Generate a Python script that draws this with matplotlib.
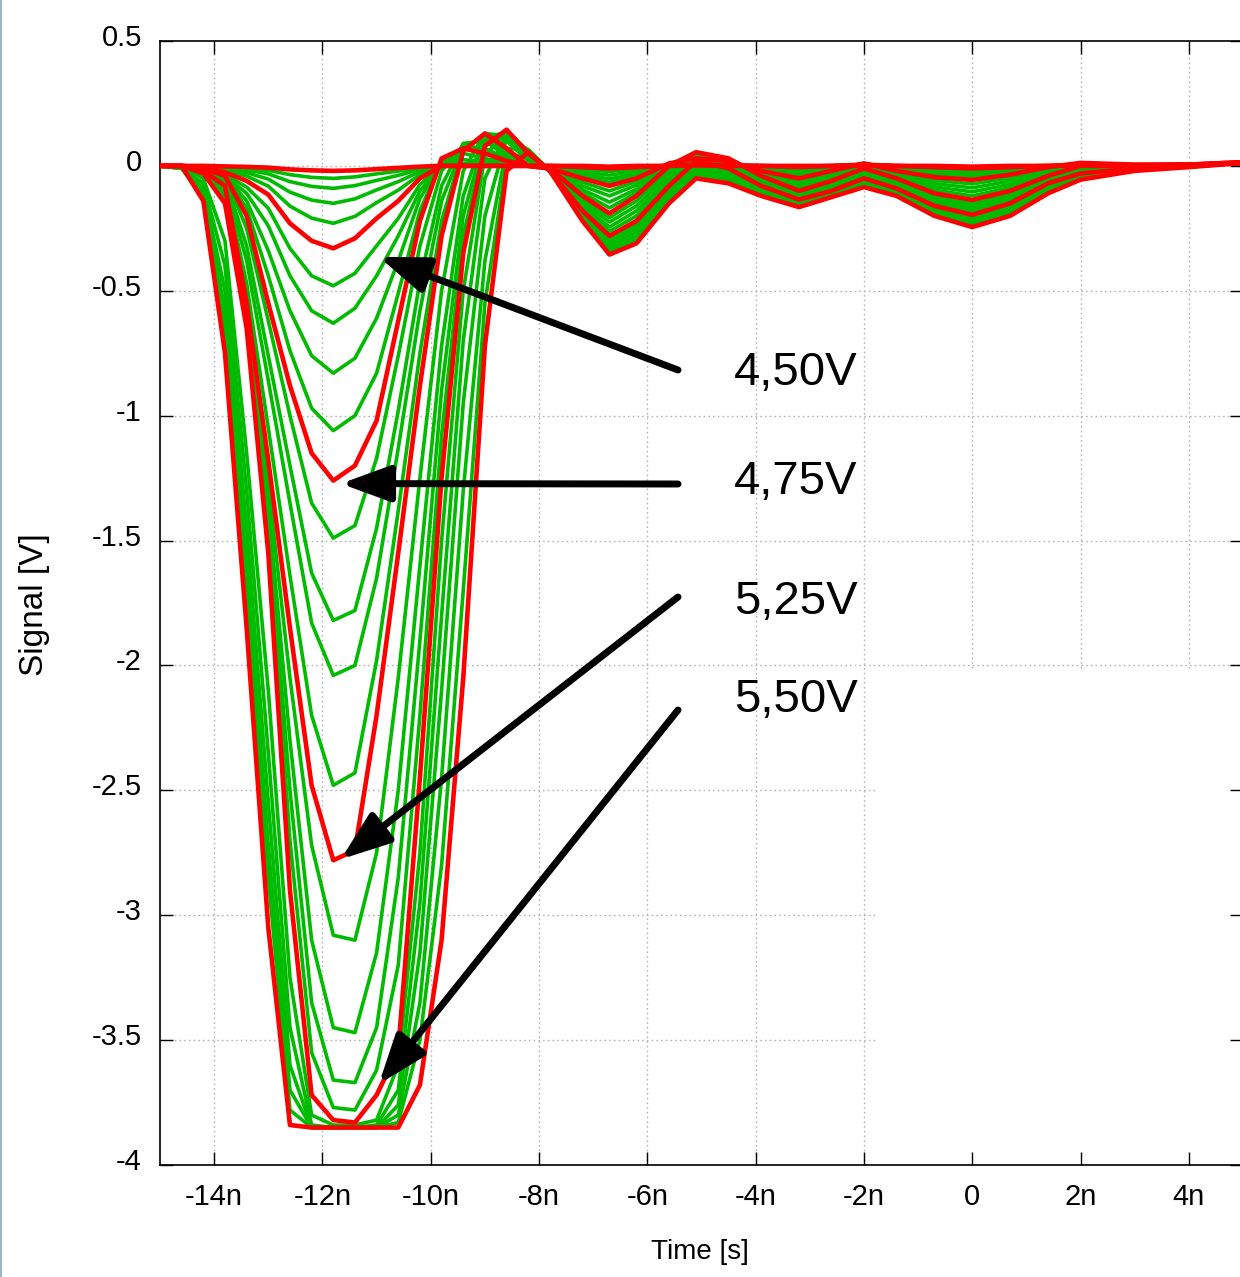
import numpy as np
import matplotlib.pyplot as plt
from matplotlib.lines import Line2D
import matplotlib.transforms as mtransforms

plt.rcParams['font.family'] = ['Liberation Sans', 'DejaVu Sans']

# time samples in ns: main pulse, then the ringing tail
t_pulse = [-15.0, -14.6, -14.2, -13.8, -13.4, -13.0, -12.6, -12.2, -11.8,
           -11.4, -11.0, -10.6, -10.2, -9.8, -9.4, -9.0, -8.6, -8.2]
t_tail = [-7.8, -7.2, -6.7, -6.2, -5.6, -5.1, -4.5, -3.9, -3.2, -2.6,
          -2.0, -1.4, -0.7, 0.0, 0.7, 1.4, 2.0, 3.0, 4.0, 5.0]

# signal [V] of each supply-voltage step
pulse_values = [
    [0, 0, 0, -0.002, -0.004, -0.007, -0.014, -0.018, -0.02, -0.018, -0.013, -0.008, -0.003, 0, 0, 0, 0, 0],
    [0, 0, -0.001, -0.004, -0.009, -0.018, -0.035, -0.046, -0.05, -0.044, -0.032, -0.021, -0.008, 0, 0, 0, 0, 0],
    [0, 0, -0.001, -0.007, -0.016, -0.032, -0.063, -0.082, -0.09, -0.079, -0.058, -0.038, -0.014, 0, 0, 0, 0, 0],
    [0, 0, -0.002, -0.012, -0.027, -0.053, -0.105, -0.137, -0.15, -0.132, -0.096, -0.063, -0.023, 0, 0, 0, 0, 0],
    [0, 0, -0.003, -0.018, -0.041, -0.081, -0.161, -0.209, -0.23, -0.202, -0.147, -0.097, -0.035, 0, 0, 0, 0, 0],
    [0, 0, -0.005, -0.026, -0.06, -0.115, -0.23, -0.30, -0.33, -0.29, -0.21, -0.14, -0.05, 0, 0, 0, 0, 0],
    [0, 0, -0.007, -0.035, -0.085, -0.17, -0.33, -0.44, -0.48, -0.43, -0.32, -0.21, -0.075, 0, 0.004, 0.002, 0, 0],
    [0, 0, -0.008, -0.04, -0.11, -0.24, -0.44, -0.58, -0.63, -0.57, -0.44, -0.28, -0.1, 0.0, 0.01, 0.006, 0.002, 0],
    [0, 0, -0.01, -0.04, -0.14, -0.34, -0.58, -0.76, -0.83, -0.77, -0.61, -0.38, -0.13, 0.01, 0.025, 0.015, 0.005, 0],
    [0, 0, -0.01, -0.04, -0.17, -0.44, -0.74, -0.97, -1.06, -1.0, -0.83, -0.51, -0.18, 0.02, 0.05, 0.03, 0.01, 0],
    [0, 0, -0.01, -0.04, -0.2, -0.55, -0.88, -1.15, -1.26, -1.2, -1.02, -0.62, -0.22, 0.03, 0.07, 0.05, 0.02, 0],
    [0, 0, -0.01, -0.04, -0.25, -0.62, -1.0, -1.35, -1.49, -1.44, -1.17, -0.76, -0.32, -0.02, 0.08, 0.07, 0.03, 0.0],
    [0, 0, -0.01, -0.05, -0.32, -0.76, -1.2, -1.63, -1.82, -1.78, -1.45, -0.98, -0.46, -0.08, 0.09, 0.1, 0.04, 0.0],
    [0, 0, -0.01, -0.06, -0.38, -0.86, -1.35, -1.83, -2.04, -2.0, -1.65, -1.13, -0.58, -0.14, 0.08, 0.11, 0.05, 0.0],
    [0, 0, -0.02, -0.07, -0.47, -1.05, -1.64, -2.2, -2.48, -2.43, -1.98, -1.38, -0.75, -0.22, 0.07, 0.12, 0.06, 0.0],
    [0, 0, -0.02, -0.08, -0.55, -1.18, -1.85, -2.48, -2.78, -2.74, -2.2, -1.55, -0.88, -0.28, 0.06, 0.13, 0.07, 0.0],
    [0, 0, -0.03, -0.1, -0.58, -1.28, -2.05, -2.72, -3.08, -3.1, -2.75, -2.05, -1.25, -0.5, -0.02, 0.13, 0.1, 0.02],
    [0, 0, -0.03, -0.11, -0.6, -1.36, -2.3, -3.1, -3.45, -3.47, -3.15, -2.5, -1.6, -0.72, -0.12, 0.13, 0.12, 0.03],
    [0, 0, -0.03, -0.12, -0.62, -1.42, -2.5, -3.35, -3.66, -3.67, -3.45, -2.85, -1.9, -0.9, -0.2, 0.12, 0.13, 0.04],
    [0, 0, -0.03, -0.13, -0.63, -1.48, -2.7, -3.55, -3.77, -3.78, -3.62, -3.2, -2.2, -1.08, -0.28, 0.1, 0.14, 0.045],
    [0, 0, -0.03, -0.15, -0.65, -1.55, -2.9, -3.72, -3.82, -3.83, -3.72, -3.54, -2.45, -1.25, -0.35, 0.08, 0.145, 0.05],
    [0, 0, -0.05, -0.3, -1.15, -2.1, -3.25, -3.8, -3.84, -3.84, -3.82, -3.6, -2.75, -1.5, -0.5, 0.04, 0.14, 0.06],
    [0, -0.01, -0.07, -0.4, -1.3, -2.35, -3.45, -3.84, -3.85, -3.85, -3.84, -3.7, -2.95, -1.8, -0.7, -0.05, 0.13, 0.06],
    [0, -0.01, -0.09, -0.5, -1.45, -2.55, -3.6, -3.85, -3.85, -3.85, -3.85, -3.76, -3.15, -2.1, -0.95, -0.2, 0.11, 0.065],
    [0, -0.01, -0.11, -0.58, -1.6, -2.72, -3.7, -3.85, -3.85, -3.85, -3.85, -3.8, -3.35, -2.45, -1.3, -0.38, 0.07, 0.065],
    [0, -0.01, -0.13, -0.66, -1.72, -2.85, -3.78, -3.85, -3.85, -3.85, -3.85, -3.83, -3.5, -2.8, -1.7, -0.55, 0.02, 0.06],
    [0, 0, -0.14, -0.75, -1.85, -3.05, -3.84, -3.85, -3.85, -3.85, -3.85, -3.85, -3.68, -3.1, -2.05, -0.72, -0.02, 0.055],
]

tail_values = [
    [0.0, 0.0, -0.003, 0.0, 0.0, 0.002, 0.0, 0.0, 0.0, 0.0, 0.002, 0.0, 0.0, -0.003, 0.0, 0.0, 0.002, 0.002, 0.005, 0.01],
    [0.0, -0.002, -0.004, -0.002, 0.0, 0.003, 0.001, 0.0, -0.001, 0.0, 0.003, 0.0, -0.001, -0.004, -0.001, 0.0, 0.003, 0.002, 0.005, 0.01],
    [0.0, -0.003, -0.006, -0.003, 0.0, 0.003, 0.002, 0.0, -0.002, 0.0, 0.003, 0.0, -0.002, -0.005, -0.002, 0.0, 0.003, 0.003, 0.005, 0.011],
    [0.0, -0.004, -0.007, -0.004, 0.0, 0.004, 0.002, 0.0, -0.003, 0.0, 0.004, 0.0, -0.003, -0.007, -0.003, 0.0, 0.004, 0.003, 0.005, 0.011],
    [0.0, -0.004, -0.008, -0.004, 0.0, 0.004, 0.002, 0.0, -0.004, 0.0, 0.004, 0.0, -0.004, -0.008, -0.004, 0.0, 0.004, 0.003, 0.005, 0.012],
    [0.0, -0.005, -0.01, -0.005, 0.0, 0.005, 0.003, 0.0, -0.005, 0.0, 0.005, 0.0, -0.005, -0.01, -0.005, 0.0, 0.005, 0.003, 0.005, 0.012],
    [-0.005, -0.015, -0.022, -0.013, 0.002, 0.01, 0.006, -0.004, -0.012, -0.004, 0.006, -0.004, -0.013, -0.02, -0.012, -0.001, 0.007, 0.004, 0.005, 0.013],
    [-0.005, -0.025, -0.037, -0.022, 0.004, 0.016, 0.01, -0.008, -0.022, -0.008, 0.008, -0.009, -0.022, -0.03, -0.019, -0.002, 0.009, 0.004, 0.005, 0.013],
    [-0.008, -0.035, -0.052, -0.032, 0.006, 0.022, 0.014, -0.012, -0.032, -0.012, 0.009, -0.013, -0.031, -0.04, -0.025, -0.003, 0.01, 0.005, 0.005, 0.014],
    [-0.01, -0.043, -0.066, -0.041, 0.008, 0.027, 0.017, -0.016, -0.041, -0.016, 0.01, -0.017, -0.038, -0.048, -0.03, -0.004, 0.011, 0.005, 0.005, 0.014],
    [-0.01, -0.05, -0.08, -0.05, 0.01, 0.03, 0.02, -0.02, -0.05, -0.02, 0.01, -0.02, -0.045, -0.056, -0.035, -0.005, 0.012, 0.005, 0.005, 0.015],
    [-0.01, -0.065, -0.1, -0.063, 0.007, 0.036, 0.022, -0.024, -0.06, -0.028, 0.006, -0.026, -0.058, -0.072, -0.048, -0.012, 0.01, 0.004, 0.005, 0.015],
    [-0.01, -0.08, -0.12, -0.077, 0.005, 0.042, 0.024, -0.028, -0.07, -0.036, 0.002, -0.032, -0.071, -0.088, -0.061, -0.019, 0.007, 0.003, 0.005, 0.015],
    [-0.01, -0.095, -0.145, -0.093, 0.003, 0.048, 0.027, -0.032, -0.08, -0.044, -0.002, -0.038, -0.084, -0.104, -0.074, -0.026, 0.004, 0.002, 0.005, 0.015],
    [-0.01, -0.108, -0.168, -0.107, 0.001, 0.052, 0.029, -0.036, -0.09, -0.052, -0.006, -0.044, -0.097, -0.12, -0.087, -0.033, 0.002, 0.001, 0.005, 0.015],
    [-0.01, -0.12, -0.19, -0.12, 0.0, 0.055, 0.03, -0.04, -0.1, -0.06, -0.01, -0.05, -0.11, -0.136, -0.1, -0.04, 0.0, 0.0, 0.005, 0.015],
    [-0.012, -0.132, -0.207, -0.14, -0.016, 0.048, 0.022, -0.048, -0.107, -0.068, -0.018, -0.058, -0.12, -0.148, -0.11, -0.046, -0.006, -0.002, 0.004, 0.014],
    [-0.014, -0.144, -0.225, -0.16, -0.032, 0.041, 0.014, -0.056, -0.114, -0.076, -0.026, -0.066, -0.13, -0.16, -0.12, -0.052, -0.012, -0.004, 0.003, 0.014],
    [-0.016, -0.156, -0.245, -0.18, -0.048, 0.034, 0.006, -0.064, -0.121, -0.084, -0.034, -0.074, -0.14, -0.172, -0.13, -0.058, -0.018, -0.006, 0.002, 0.013],
    [-0.018, -0.168, -0.262, -0.2, -0.064, 0.027, -0.002, -0.072, -0.128, -0.092, -0.042, -0.082, -0.15, -0.184, -0.14, -0.064, -0.024, -0.008, 0.001, 0.013],
    [-0.02, -0.18, -0.28, -0.22, -0.08, 0.02, -0.01, -0.08, -0.135, -0.1, -0.05, -0.09, -0.16, -0.196, -0.15, -0.07, -0.03, -0.01, 0.0, 0.012],
    [-0.02, -0.187, -0.293, -0.235, -0.092, 0.009, -0.02, -0.087, -0.14, -0.104, -0.056, -0.095, -0.167, -0.204, -0.158, -0.077, -0.034, -0.012, -0.001, 0.012],
    [-0.02, -0.193, -0.307, -0.25, -0.103, -0.002, -0.03, -0.093, -0.145, -0.108, -0.062, -0.1, -0.173, -0.212, -0.167, -0.083, -0.038, -0.013, -0.002, 0.012],
    [-0.02, -0.2, -0.32, -0.265, -0.115, -0.014, -0.04, -0.1, -0.15, -0.112, -0.068, -0.105, -0.18, -0.22, -0.175, -0.09, -0.043, -0.015, -0.003, 0.012],
    [-0.02, -0.207, -0.333, -0.28, -0.127, -0.026, -0.05, -0.107, -0.155, -0.117, -0.073, -0.11, -0.187, -0.229, -0.183, -0.097, -0.047, -0.017, -0.004, 0.012],
    [-0.02, -0.213, -0.344, -0.295, -0.138, -0.038, -0.06, -0.113, -0.16, -0.121, -0.079, -0.115, -0.193, -0.237, -0.192, -0.103, -0.051, -0.018, -0.004, 0.012],
    [-0.02, -0.22, -0.355, -0.31, -0.15, -0.05, -0.07, -0.12, -0.165, -0.125, -0.085, -0.12, -0.2, -0.245, -0.2, -0.11, -0.055, -0.02, -0.005, 0.012],
]

red_curves = [0, 5, 10, 15, 20, 26]

x_ticks = [-14, -12, -10, -8, -6, -4, -2, 0, 2, 4]
x_ticklabels = ['-14n', '-12n', '-10n', '-8n', '-6n', '-4n', '-2n', '0', '2n', '4n']
y_ticks = [0.5, 0, -0.5, -1, -1.5, -2, -2.5, -3, -3.5, -4]
y_ticklabels = ['0.5', '0', '-0.5', '-1', '-1.5', '-2', '-2.5', '-3', '-3.5', '-4']

voltage_labels = ['4,50V', '4,75V', '5,25V', '5,50V']
arrow_tips = [(-10.96, -0.364), (-11.66, -1.272), (-11.66, -2.776), (-10.96, -3.676)]

W, H = 1240, 1277
fig = plt.figure(figsize=(W / 100, H / 100), dpi=100)
ax = fig.add_axes([160 / W, 1 - 1165 / H, 1083 / W, 1124 / H])
ax.set_xlim(-15, 5)
ax.set_ylim(-4, 0.5)

t_all = np.array(t_pulse + t_tail)
for i in range(len(pulse_values)):
    v = np.array(pulse_values[i] + tail_values[i])
    if i in red_curves:
        ax.plot(t_all, v, color='#ff0000', lw=3.3, zorder=4, solid_joinstyle='round')
    else:
        ax.plot(t_all, v, color='#00bb00', lw=2.6, zorder=3, solid_joinstyle='round')

# dotted grid; lower right part of the original is blanked
grid_kw = dict(color='#b4b4b4', lw=1.0, ls=(0, (1.2, 2.2)), zorder=0.5)
for xv in x_ticks:
    ax.axvline(xv, ymin=0 if xv < 0 else (-2.01 + 4) / 4.5, ymax=1, **grid_kw)
for yv in y_ticks[1:]:
    ax.axhline(yv, xmin=0, xmax=1 if yv > -2.4 else (-1.76 + 15) / 20, **grid_kw)

ax.set_xticks(x_ticks)
ax.set_xticklabels(x_ticklabels)
ax.set_yticks(y_ticks)
ax.set_yticklabels(y_ticklabels)
ax.tick_params(direction='in', length=9.5, width=1.0, top=True, right=True,
               labelsize=21, colors='black')
ax.tick_params(axis='x', pad=13)
ax.tick_params(axis='y', pad=13)
for lab in ax.get_yticklabels():
    lab.set_transform(lab.get_transform() +
                      mtransforms.ScaledTranslation(0, 0.06, fig.dpi_scale_trans))
for sp in ax.spines.values():
    sp.set_linewidth(1.2)

fig.text(700 / W, 1 - 1252 / H, 'Time [s]', fontsize=20, ha='center', va='center')
fig.text(35 / W, 1 - 605 / H, 'Signal [V]', fontsize=24, ha='center', va='center',
         rotation=90)

tails_px = [(678, 907), (678, 793), (678, 680), (678, 567)]
baselines_px = [385, 494, 614, 712]
for lab, tip, tail, base in zip(voltage_labels, arrow_tips, tails_px, baselines_px):
    ax.annotate('', xy=tip, xycoords='data', xytext=tail, textcoords='figure pixels',
                arrowprops=dict(arrowstyle='-|>,head_length=30,head_width=11',
                                mutation_scale=1, lw=5, color='black',
                                shrinkA=0, shrinkB=0), zorder=6)
    fig.text(734 / W, 1 - base / H, lab, fontsize=34, ha='left', va='baseline')

fig.add_artist(Line2D([0.0008, 0.0008], [0, 1], color='#a4b4c4', lw=1.5))

fig.savefig('out.png', dpi=100)
